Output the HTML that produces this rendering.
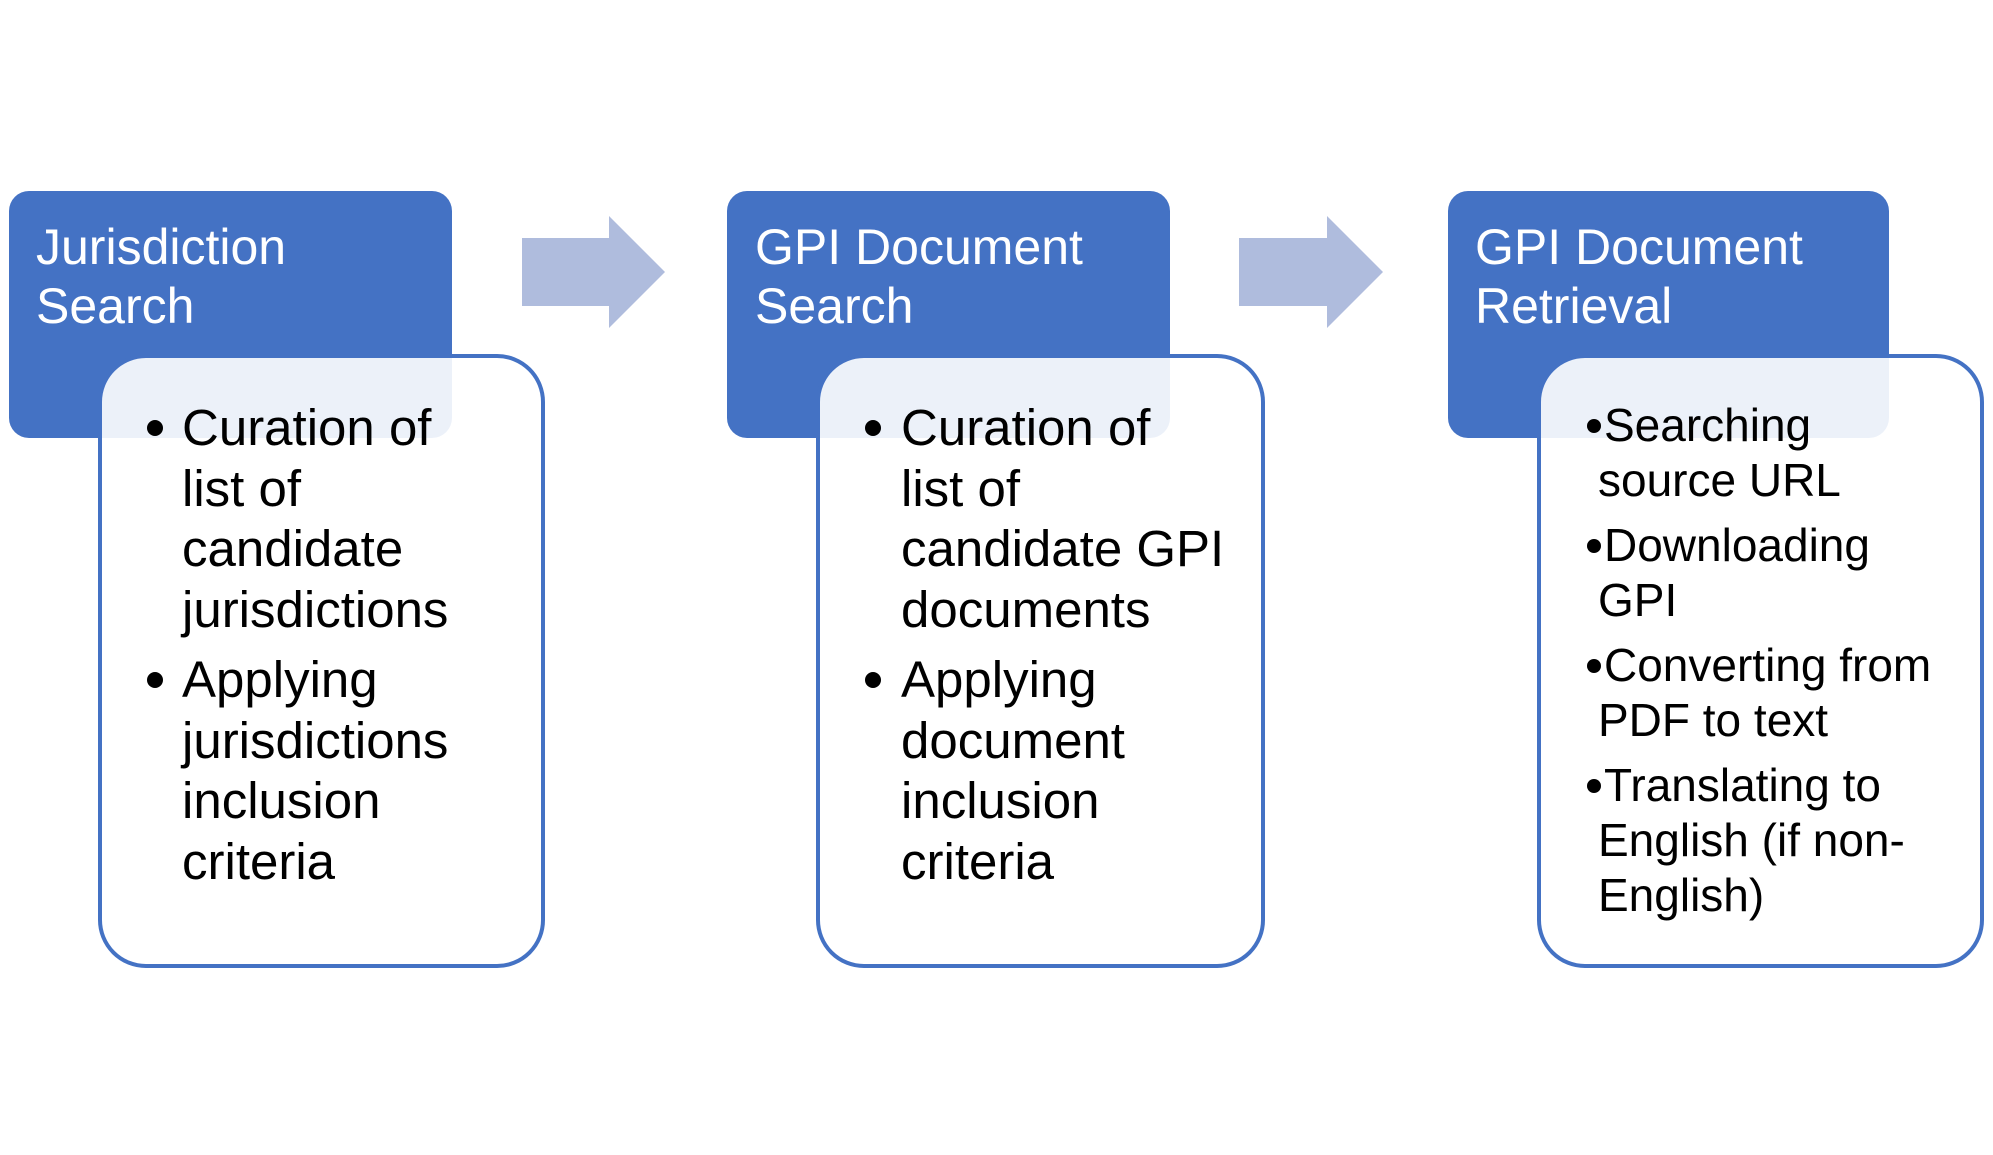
<!DOCTYPE html>
<html><head><meta charset="utf-8"><style>
html,body{margin:0;padding:0;background:#fff;}
svg{display:block;}
text{font-family:"Liberation Sans",sans-serif;}
.t{fill:#fff;font-size:50px;}
.b{fill:#000;font-size:51px;}
.c{fill:#000;font-size:46px;}
</style></head><body>
<svg width="1993" height="1155" viewBox="0 0 1993 1155" xmlns="http://www.w3.org/2000/svg">
<!-- arrows -->
<polygon points="522,238 609,238 609,216 665,272 609,328 609,306 522,306" fill="#AFBCDD"/>
<polygon points="1239,238 1327,238 1327,216 1383,272 1327,328 1327,306 1239,306" fill="#AFBCDD"/>

<!-- box 1 -->
<rect x="9" y="191" width="443" height="247" rx="20" fill="#4472C4"/>
<rect x="100" y="356" width="443" height="610" rx="46" fill="rgba(255,255,255,0.9)" stroke="#4472C4" stroke-width="4"/>
<text class="t" x="36" y="264">Jurisdiction</text>
<text class="t" x="36" y="323">Search</text>
<circle cx="155" cy="428" r="8" fill="#000"/>
<text class="b" x="182" y="445">Curation of</text>
<text class="b" x="182" y="506">list of</text>
<text class="b" x="182" y="566">candidate</text>
<text class="b" x="182" y="627">jurisdictions</text>
<circle cx="155" cy="680" r="8" fill="#000"/>
<text class="b" x="182" y="697">Applying</text>
<text class="b" x="182" y="758">jurisdictions</text>
<text class="b" x="182" y="818">inclusion</text>
<text class="b" x="182" y="879">criteria</text>

<!-- box 2 -->
<rect x="727" y="191" width="443" height="247" rx="20" fill="#4472C4"/>
<rect x="818" y="356" width="445" height="610" rx="46" fill="rgba(255,255,255,0.9)" stroke="#4472C4" stroke-width="4"/>
<text class="t" x="755" y="264">GPI Document</text>
<text class="t" x="755" y="323">Search</text>
<circle cx="873" cy="428" r="8" fill="#000"/>
<text class="b" x="901" y="445">Curation of</text>
<text class="b" x="901" y="506">list of</text>
<text class="b" x="901" y="566">candidate GPI</text>
<text class="b" x="901" y="627">documents</text>
<circle cx="873" cy="680" r="8" fill="#000"/>
<text class="b" x="901" y="697">Applying</text>
<text class="b" x="901" y="758">document</text>
<text class="b" x="901" y="818">inclusion</text>
<text class="b" x="901" y="879">criteria</text>

<!-- box 3 -->
<rect x="1448" y="191" width="441" height="247" rx="20" fill="#4472C4"/>
<rect x="1539" y="356" width="443" height="610" rx="46" fill="rgba(255,255,255,0.9)" stroke="#4472C4" stroke-width="4"/>
<text class="t" x="1475" y="264">GPI Document</text>
<text class="t" x="1475" y="323">Retrieval</text>
<circle cx="1594" cy="426" r="7" fill="#000"/>
<text class="c" x="1604" y="441">Searching</text>
<text class="c" x="1598" y="496">source URL</text>
<circle cx="1594" cy="546" r="7" fill="#000"/>
<text class="c" x="1604" y="561">Downloading</text>
<text class="c" x="1598" y="616">GPI</text>
<circle cx="1594" cy="666" r="7" fill="#000"/>
<text class="c" x="1604" y="681">Converting from</text>
<text class="c" x="1598" y="736">PDF to text</text>
<circle cx="1594" cy="786" r="7" fill="#000"/>
<text class="c" x="1604" y="801">Translating to</text>
<text class="c" x="1598" y="856">English (if non-</text>
<text class="c" x="1598" y="911">English)</text>
</svg>
</body></html>
